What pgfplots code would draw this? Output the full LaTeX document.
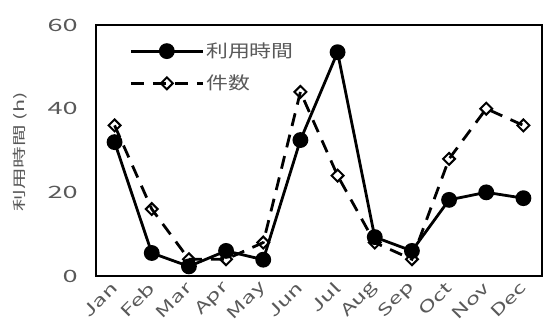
\documentclass[border=0pt]{standalone}
\usepackage{fontspec}
\setmainfont{Noto Sans CJK JP}
\newfontfamily\tickfont[FakeStretch=1.6]{Noto Sans CJK JP}
\newfontfamily\monfont[FakeStretch=1.5]{Noto Sans CJK JP}
\newfontfamily\labfont[FakeStretch=1.6]{Noto Sans CJK JP}
\newfontfamily\legfont[FakeStretch=1.25]{Noto Sans CJK JP}
\newcommand\legsize{\legfont\fontsize{17.5}{18}\selectfont}
\usepackage{pgfplots}
\pgfplotsset{compat=1.18}
\definecolor{txtgray}{RGB}{89,89,89}
\begin{document}
\begin{tikzpicture}
\useasboundingbox (-96pt,-47pt) rectangle (448pt,276pt);
\begin{axis}[
  scale only axis,
  width=446pt, height=251pt,
  xmin=-0.5, xmax=11.5,
  ymin=0, ymax=60,
  ytick={0,20,40,60},
  xtick={0,...,11},
  xticklabels={Jan,Feb,Mar,Apr,May,Jun,Jul,Aug,Sep,Oct,Nov,Dec},
  major tick length=0pt,
  axis line style={line width=1.3pt, black},
  every tick label/.append style={text=txtgray},
  yticklabel style={inner sep=0pt, anchor=east, xshift=-18pt, font=\tickfont\fontsize{17}{17}\selectfont},
  xticklabel style={xshift=0pt, yshift=-9pt, rotate=45, anchor=east, inner sep=0pt, font=\monfont\fontsize{16}{17}\selectfont},
  ylabel={利用時間 (h)},
  every axis y label/.style={at={(axis description cs:0,0.494)}, xshift=-76pt, rotate=90, anchor=center, font=\labfont\fontsize{13.5}{14}\selectfont, text=txtgray},
  legend style={draw=none, fill=none, at={(0.07,0.945)}, anchor=north west,
    font=\legsize, text=txtgray, row sep=12pt, inner sep=2pt,
    nodes={font=\legsize, text=txtgray}},
  legend cell align=left,
  legend image code/.code={\draw[mark repeat=2,mark phase=2,#1] plot coordinates {(0pt,0pt) (36pt,0pt) (72pt,0pt)};},
  clip=false,
  /pgf/number format/assume math mode=true,
]
\addplot[black, line width=2.8pt, mark=*, mark size=6.5pt, mark options={solid, fill=black}]
coordinates {(0,32) (1,5.5) (2,2.3) (3,6) (4,3.9) (5,32.5) (6,53.5) (7,9.3) (8,6) (9,18.2) (10,20) (11,18.6)};
\addlegendentry{\legsize 利用時間}
\addplot[black, line width=2.8pt, dash pattern=on 13pt off 9pt, mark=square, mark size=4.2pt, mark options={solid, fill=white, rotate=45, line width=2pt}]
coordinates {(0,36) (1,16) (2,4) (3,4) (4,8) (5,44) (6,24) (7,8) (8,4) (9,28) (10,40) (11,36)};
\addlegendentry{\legsize 件数}
\end{axis}
\end{tikzpicture}
\end{document}
